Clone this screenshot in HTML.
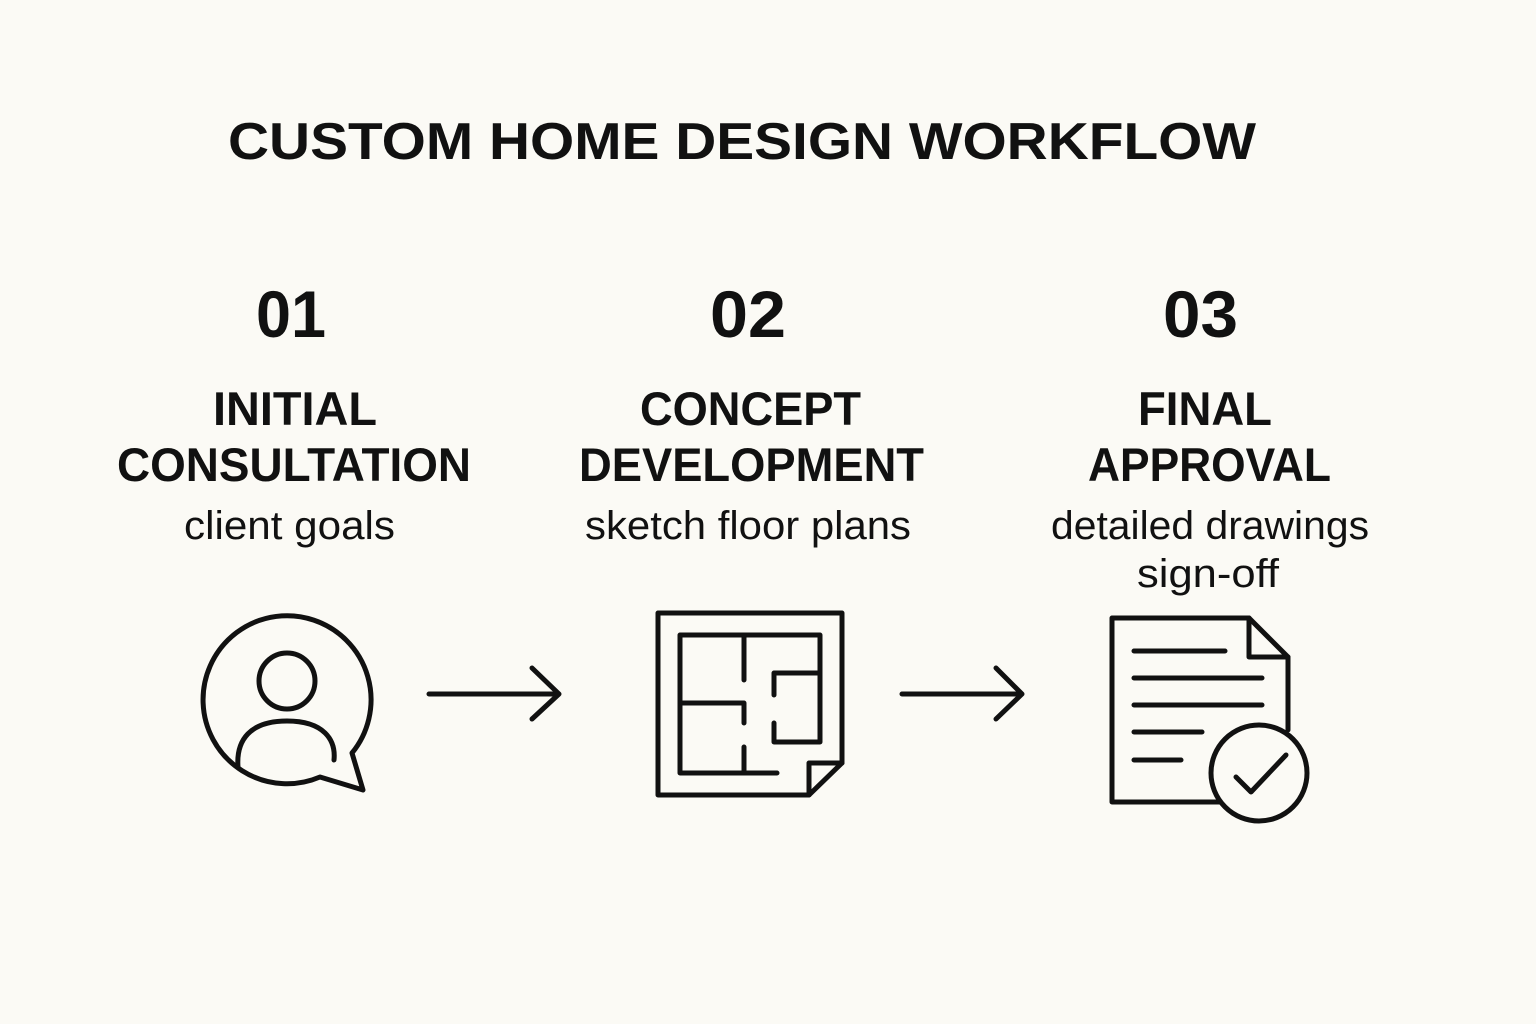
<!DOCTYPE html>
<html><head><meta charset="utf-8"><style>
html,body{margin:0;padding:0;background:#fbfaf5;}
svg{display:block;}
text{font-family:"Liberation Sans",sans-serif;fill:#111;}
</style></head><body>
<svg width="1536" height="1024" viewBox="0 0 1536 1024" xmlns="http://www.w3.org/2000/svg">
<rect width="1536" height="1024" fill="#fbfaf5"/>
<text x="228" y="159" font-size="52" font-weight="bold" textLength="1028" lengthAdjust="spacingAndGlyphs">CUSTOM HOME DESIGN WORKFLOW</text>

<g font-weight="bold" font-size="66">
<text x="256" y="337" textLength="70" lengthAdjust="spacingAndGlyphs">01</text>
<text x="710" y="337" textLength="76" lengthAdjust="spacingAndGlyphs">02</text>
<text x="1163" y="337" textLength="75" lengthAdjust="spacingAndGlyphs">03</text>
</g>
<g font-weight="bold" font-size="47">
<text x="213" y="425" textLength="164" lengthAdjust="spacingAndGlyphs">INITIAL</text>
<text x="117" y="481" textLength="354" lengthAdjust="spacingAndGlyphs">CONSULTATION</text>
<text x="640" y="425" textLength="221" lengthAdjust="spacingAndGlyphs">CONCEPT</text>
<text x="579" y="481" textLength="345" lengthAdjust="spacingAndGlyphs">DEVELOPMENT</text>
<text x="1138" y="425" textLength="134" lengthAdjust="spacingAndGlyphs">FINAL</text>
<text x="1088" y="481" textLength="243" lengthAdjust="spacingAndGlyphs">APPROVAL</text>
</g>
<g font-size="40">
<text x="184" y="539" textLength="211" lengthAdjust="spacingAndGlyphs">client goals</text>
<text x="585" y="539" textLength="326" lengthAdjust="spacingAndGlyphs">sketch floor plans</text>
<text x="1051" y="539" textLength="318" lengthAdjust="spacingAndGlyphs">detailed drawings</text>
<text x="1137" y="587" textLength="142" lengthAdjust="spacingAndGlyphs">sign-off</text>
</g>

<g fill="none" stroke="#111" stroke-width="5" stroke-linecap="round" stroke-linejoin="round">
<!-- icon 1 -->
<path d="M352 753 A84 84 0 1 0 320 777 L363 790 Z"/>
<circle cx="287" cy="681" r="28"/>
<path d="M238 767 C236 740 250 721 287 721 C324 721 336 740 334 760"/>
<!-- arrow 1 -->
<path d="M429 694 H559 M532 668 L559 694 L532 719"/>
<!-- floor plan -->
<path d="M658 613 H842 V763 L809 795 H658 Z"/>
<path d="M842 763 H809 V795"/>
<path d="M777 773 H680 V635 H820 V742 H774 V723 M774 695 V673 H820"/>
<path d="M744 635 V680 M680 703 H744 V723 M744 747 V773"/>
<!-- arrow 2 -->
<path d="M902 694 H1022 M996 668 L1022 694 L996 719"/>
<!-- document -->
<path d="M1223 802 H1112 V618 H1249 L1288 657 V730"/>
<path d="M1249 618 V657 H1288"/>
<path d="M1134 651 H1225 M1134 678 H1262 M1134 705 H1262 M1134 732 H1202 M1134 760 H1181"/>
<circle cx="1259" cy="773" r="48" fill="#fbfaf5"/>
<path d="M1236 777 L1251 792 L1286 755"/>
</g>
</svg>
</body></html>
